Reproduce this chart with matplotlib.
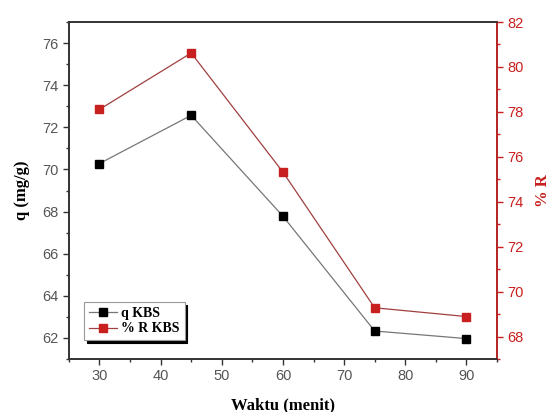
import matplotlib
matplotlib.use("Agg")
import matplotlib.pyplot as plt
from matplotlib.ticker import MultipleLocator

waktu = [30, 45, 60, 75, 90]
q_kbs = [70.28, 72.57, 67.78, 62.33, 61.97]
r_kbs = [78.11, 80.62, 75.32, 69.28, 68.89]

red = "#c8201e"
tickgray = "#555555"

plt.rcParams["font.family"] = "Liberation Sans"

fig = plt.figure(figsize=(5.51, 4.12), dpi=100)
ax = fig.add_axes([0.125, 0.1286, 0.777, 0.818])
ax2 = ax.twinx()

l1, = ax.plot(waktu, q_kbs, color="#777777", lw=0.9, marker="s", ms=6,
              mfc="black", mec="black", label="q KBS")
l2, = ax2.plot(waktu, r_kbs, color="#a04040", lw=0.9, marker="s", ms=6,
               mfc=red, mec=red, label="% R KBS")

ax.set_xlim(25, 95)
ax.set_ylim(61, 77)
ax2.set_ylim(67, 82)

ax.xaxis.set_major_locator(MultipleLocator(10))
ax.xaxis.set_minor_locator(MultipleLocator(5))
ax.yaxis.set_major_locator(MultipleLocator(2))
ax.yaxis.set_minor_locator(MultipleLocator(1))
ax2.yaxis.set_major_locator(MultipleLocator(2))
ax2.yaxis.set_minor_locator(MultipleLocator(1))

for a in (ax, ax2):
    for s in a.spines.values():
        s.set_linewidth(1.2)
        s.set_color("#333333")
ax2.spines["right"].set_color(red)

ax.tick_params(axis="both", which="major", direction="out", length=4, width=1,
               labelsize=10.5, labelcolor=tickgray, color="#333333")
ax.tick_params(axis="both", which="minor", direction="out", length=2.5, width=1, color="#333333")
ax2.tick_params(axis="y", which="major", direction="out", length=4, width=1,
                labelsize=10.5, labelcolor=red, color=red)
ax2.tick_params(axis="y", which="minor", direction="out", length=2.5, width=1, color=red)

serif = "Liberation Serif"
ax.set_xlabel("Waktu (menit)", fontsize=12, fontweight="bold", family=serif, labelpad=10)
ax.set_ylabel("q (mg/g)", fontsize=12, fontweight="bold", family=serif, labelpad=9)
ax2.set_ylabel("% R", fontsize=12, fontweight="bold", family=serif, color=red,
               rotation=90, labelpad=8)

leg = ax.legend(handles=[l1, l2], loc="lower left", bbox_to_anchor=(0.02, 0.035),
                prop={"family": serif, "weight": "bold", "size": 10},
                shadow={"color": "black", "alpha": 1}, fancybox=False, framealpha=1,
                edgecolor="#999999", handlelength=2.0, borderpad=0.35, labelspacing=0.2,
                handletextpad=0.3)
leg.get_frame().set_linewidth(0.8)

fig.savefig("out.png", dpi=100)
